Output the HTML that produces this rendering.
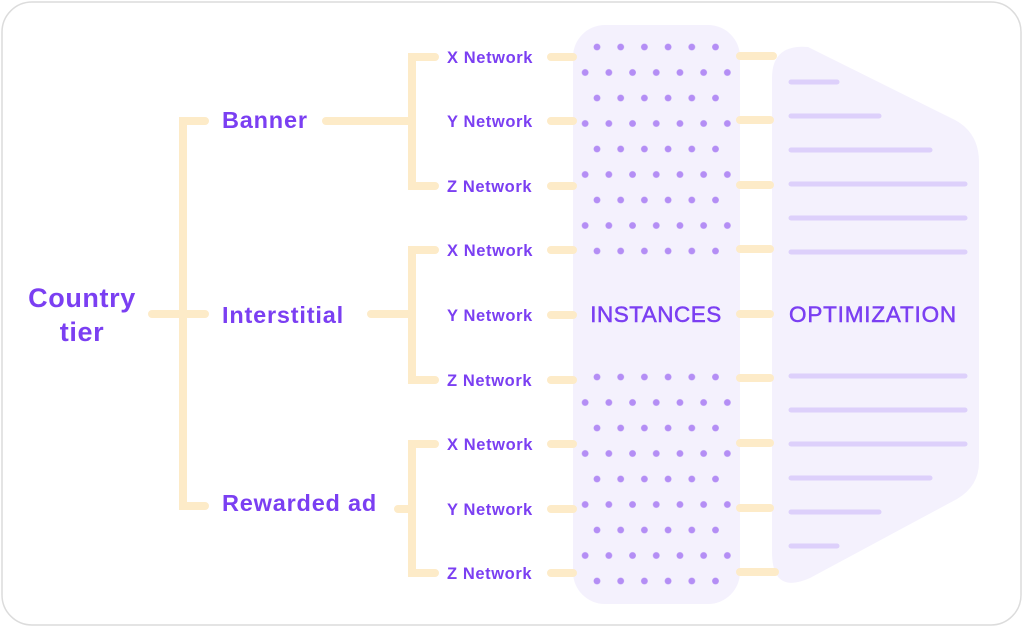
<!DOCTYPE html>
<html><head><meta charset="utf-8"><style>
html,body{margin:0;padding:0;background:#fff;}
svg{display:block;}
text{font-family:"Liberation Sans",sans-serif;fill:#7b3ff2;font-weight:bold;}
</style></head><body>
<svg width="1024" height="628" viewBox="0 0 1024 628" xmlns="http://www.w3.org/2000/svg">
<defs>
<pattern id="d1" patternUnits="userSpaceOnUse" x="579.2" y="34.25" width="23.7" height="51">
<circle cx="17.8" cy="12.75" r="3.4" fill="#b48ef5"/><circle cx="5.95" cy="38.25" r="3.4" fill="#b48ef5"/></pattern>
<pattern id="d2" patternUnits="userSpaceOnUse" x="579.2" y="364.25" width="23.7" height="51">
<circle cx="17.8" cy="12.75" r="3.4" fill="#b48ef5"/><circle cx="5.95" cy="38.25" r="3.4" fill="#b48ef5"/></pattern>
</defs>
<rect x="2" y="2" width="1019" height="623" rx="30" fill="#fff" stroke="#dcdcdc" stroke-width="1.5"/>
<rect x="573" y="25" width="167" height="579" rx="32" fill="#f4f1fd"/>
<rect x="578" y="40" width="156" height="218" fill="url(#d1)"/>
<rect x="578" y="370" width="156" height="217" fill="url(#d2)"/>
<path d="M772,78 Q772,44 808,47 L955,120 Q979,133 979,162 L979,462 Q979,486 957,499 L810,578 Q772,595 772,552 Z" fill="#f4f1fd"/>
<g stroke="#ddd0fb" stroke-width="5" stroke-linecap="round">
<line x1="791" y1="82" x2="837" y2="82"/><line x1="791" y1="116" x2="879" y2="116"/>
<line x1="791" y1="150" x2="930" y2="150"/><line x1="791" y1="184" x2="965" y2="184"/>
<line x1="791" y1="218" x2="965" y2="218"/><line x1="791" y1="252" x2="965" y2="252"/>
<line x1="791" y1="376" x2="965" y2="376"/><line x1="791" y1="410" x2="965" y2="410"/>
<line x1="791" y1="444" x2="965" y2="444"/><line x1="791" y1="478" x2="930" y2="478"/>
<line x1="791" y1="512" x2="879" y2="512"/><line x1="791" y1="546" x2="837" y2="546"/>
</g>
<g stroke="#fdebc8" stroke-width="8" stroke-linecap="round" fill="none">
<path d="M205,121 H183 V506 H205 M152,314 H205"/>
<path d="M326,121 H412 M435,57 H412 V186 H435"/>
<path d="M371,314 H412 M435,250 H412 V380 H435"/>
<path d="M398,509 H412 M435,444 H412 V573 H435"/>
<path d="M551,57H573 M551,121H573 M551,186H573 M551,250H573 M551,315H573 M551,380H573 M551,444H573 M551,509H573 M551,573H573"/>
<path d="M740,56H773 M740,120H770 M740,185H770 M740,249H770 M740,314H770 M740,378H770 M740,443H770 M740,508H770 M740,572H775"/>
</g>
<text x="82" y="307" font-size="27" letter-spacing="0.6" text-anchor="middle">Country</text>
<text x="82" y="341" font-size="27" letter-spacing="0.6" text-anchor="middle">tier</text>
<g font-size="23.5" letter-spacing="0.8">
<text x="222" y="128">Banner</text>
<text x="222" y="323">Interstitial</text>
<text x="222" y="511">Rewarded ad</text>
</g>
<g font-size="16.5" letter-spacing="0.6">
<text x="447" y="63">X Network</text><text x="447" y="127">Y Network</text><text x="447" y="192">Z Network</text>
<text x="447" y="256">X Network</text><text x="447" y="321">Y Network</text><text x="447" y="386">Z Network</text>
<text x="447" y="450">X Network</text><text x="447" y="515">Y Network</text><text x="447" y="579">Z Network</text>
</g>
<text x="656" y="322" font-size="22.5" letter-spacing="0.5" text-anchor="middle" style="font-weight:normal;stroke:#7b3ff2;stroke-width:0.5">INSTANCES</text>
<text x="873" y="322" font-size="22.5" letter-spacing="0.8" text-anchor="middle" style="font-weight:normal;stroke:#7b3ff2;stroke-width:0.5">OPTIMIZATION</text>
</svg>
</body></html>
